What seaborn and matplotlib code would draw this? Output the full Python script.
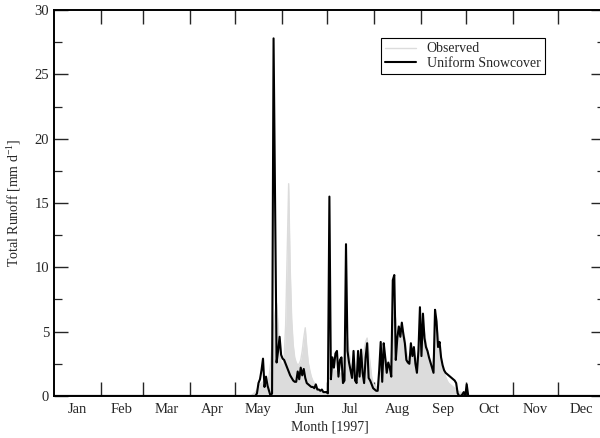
import numpy as np
import pandas as pd
import matplotlib
matplotlib.use("Agg")
import matplotlib.pyplot as plt
import seaborn as sns

# --- Data (daily runoff, mm/d, 1997) -----------------------------------------

month_names = ['Jan', 'Feb', 'Mar', 'Apr', 'May', 'Jun',
               'Jul', 'Aug', 'Sep', 'Oct', 'Nov', 'Dec']
month_days = [31, 28, 31, 30, 31, 30, 31, 31, 30, 31, 30, 31]

# observed runoff, May..Sep (other months are zero)
obs_may = [0, 0, 0, 0, 0, 0, 0, 0, 0, 0, 0,
           0.1, 0.2, 0.3, 0.5, 0.7, 0.9, 1.0, 1.1, 1.0, 0.9,
           1.0, 1.5, 2.5, 4.0, 5.5, 6.5, 7.2, 5.5, 3.5, 2.5]
obs_jun = [2.3, 3.0, 5.5, 11.0, 16.5, 10.0, 6.0, 4.0, 3.0, 2.6,
           2.4, 2.5, 2.8, 3.5, 4.5, 5.3, 3.8, 2.6, 2.0, 1.5,
           1.2, 1.0, 0.8, 0.6, 0.5, 0.4, 0.4, 0.3, 0.3, 0.3]
obs_jul = [0.3, 1.0, 2.5, 2.2, 2.0, 2.0, 1.8, 1.6, 1.8, 1.7,
           1.5, 2.0, 3.5, 4.5, 3.5, 2.5, 2.0, 2.2, 1.8, 1.6,
           1.8, 2.0, 2.5, 3.0, 3.5, 4.2, 4.5, 3.5, 2.5, 1.5, 1.0]
obs_aug = [0.8, 0.7, 0.7, 1.5, 2.5, 2.5, 2.8, 3.0, 2.5, 2.2,
           2.5, 3.0, 5.0, 6.5, 6.0, 5.0, 4.8, 5.0, 5.5, 5.0,
           4.5, 3.5, 3.0, 3.0, 3.2, 3.0, 3.2, 3.0, 2.8, 3.5, 5.5]
obs_sep = [5.0, 5.5, 5.0, 4.2, 3.5, 3.0, 2.5, 2.5, 3.0, 5.0,
           5.5, 4.8, 4.0, 3.0, 2.2, 1.8, 1.5, 1.2, 1.0, 0.9,
           0.8, 0.7, 0.6, 0.5, 0.4, 0.3, 0.3, 0.2, 0.1, 0.0]

# simulated runoff (uniform snowcover), May..Oct
sim_may = [0, 0, 0, 0, 0, 0, 0, 0, 0, 0, 0, 0, 0, 0,
           0.2, 1.0, 1.3, 2.0, 2.9, 0.7, 1.5, 0.8, 0.4, 0.0,
           0.2, 27.8, 15.0, 2.6, 3.5, 4.6, 3.2]
sim_jun = [2.9, 2.8, 2.5, 2.2, 1.9, 1.6, 1.4, 1.2, 1.1, 1.1,
           1.9, 1.3, 2.2, 1.6, 2.1, 1.4, 1.0, 0.9, 0.8, 0.7,
           0.7, 0.6, 0.9, 0.5, 0.5, 0.4, 0.5, 0.3, 0.3, 0.3]
sim_jul = [0.2, 15.5, 1.3, 3.0, 2.2, 3.3, 3.5, 1.5, 2.8, 3.0,
           1.0, 1.2, 11.8, 3.5, 2.6, 2.0, 1.4, 3.5, 1.2, 1.0,
           3.5, 1.5, 3.6, 1.8, 1.0, 3.0, 4.1, 1.4, 1.2, 0.9, 0.6]
sim_aug = [0.5, 0.4, 0.4, 2.0, 4.2, 1.1, 4.1, 3.0, 1.8, 2.6,
           2.2, 1.5, 9.0, 9.4, 2.8, 4.5, 5.4, 4.6, 5.7, 4.8,
           4.1, 2.8, 2.6, 2.5, 4.1, 3.1, 3.8, 2.5, 1.8, 3.5, 6.9]
sim_sep = [3.1, 6.4, 4.5, 3.8, 3.5, 3.0, 2.6, 2.2, 1.8, 6.7,
           5.8, 3.8, 4.2, 3.0, 2.4, 2.0, 1.8, 1.7, 1.6, 1.5,
           1.4, 1.3, 1.2, 1.0, 0.2, 0.0, 0.0, 0.1, 0.3, 0.0]
sim_oct = [0.9, 0.0]


def full_year(monthly):
    '''place month lists (index -> values) into a 365-day array'''
    out = np.zeros(sum(month_days))
    starts = np.cumsum([0] + month_days[:-1])
    for m, vals in monthly.items():
        out[starts[m]:starts[m] + len(vals)] = vals
    return out


observed = full_year({4: obs_may, 5: obs_jun, 6: obs_jul, 7: obs_aug, 8: obs_sep})
simulated = full_year({4: sim_may, 5: sim_jun, 6: sim_jul, 7: sim_aug,
                       8: sim_sep, 9: sim_oct})
df = pd.DataFrame({'day': np.arange(len(observed)) + 0.5,
                   'Observed': observed, 'Uniform Snowcover': simulated})

# --- Plot --------------------------------------------------------------------

sns.set_style('ticks')
plt.rcParams['font.family'] = ['Liberation Serif', 'DejaVu Serif']
plt.rcParams['mathtext.default'] = 'regular'

fig = plt.figure(figsize=(6.0, 4.38), dpi=100)
ax = fig.add_axes([0.09, 0.096, 0.918, 0.881])

ax.fill_between(df['day'], 0, df['Observed'], color='#dcdcdc', lw=0)
sns.lineplot(data=df, x='day', y='Observed', color='#dcdcdc', lw=1.0,
             label='Observed', ax=ax)
sns.lineplot(data=df, x='day', y='Uniform Snowcover', color='black', lw=1.5,
             label='Uniform Snowcover', ax=ax)

bounds = np.cumsum([0] + month_days)
ax.set_xlim(0, bounds[-1])
ax.set_ylim(0, 30)

ax.set_xticks(bounds[1:-1])
ax.set_xticklabels([])
ax.set_xticks((bounds[:-1] + bounds[1:]) / 2, minor=True)
ax.set_xticklabels(month_names, minor=True)
ax.tick_params(axis='x', which='major', direction='in', length=10, width=1.0,
               top=True, bottom=True)
ax.tick_params(axis='x', which='minor', length=0, labelsize=10.5, pad=5)

ax.set_yticks(np.arange(0, 31, 5))
ax.set_yticks(np.arange(2.5, 30, 5), minor=True)
ax.tick_params(axis='y', which='major', direction='in', length=10, width=1.0,
               left=True, right=True, labelsize=10.5)
ax.tick_params(axis='y', which='minor', direction='in', length=6, width=0.9,
               left=True, right=True)

for side in ax.spines.values():
    side.set_linewidth(1.4)
    side.set_color('black')

ax.set_xlabel('Month [1997]', fontsize=10, labelpad=3)
ax.set_ylabel('Total Runoff [mm d$^{-1}$]', fontsize=10, labelpad=8)

leg = ax.legend(loc='upper right', bbox_to_anchor=(0.891, 0.927),
                borderaxespad=0, fancybox=False, fontsize=10,
                handlelength=2.2, handletextpad=0.8, borderpad=0.3,
                labelspacing=0.1, framealpha=1)
leg.get_frame().set_edgecolor('black')
leg.get_frame().set_linewidth(0.8)

fig.savefig('out.png', dpi=100)
plt.close(fig)
